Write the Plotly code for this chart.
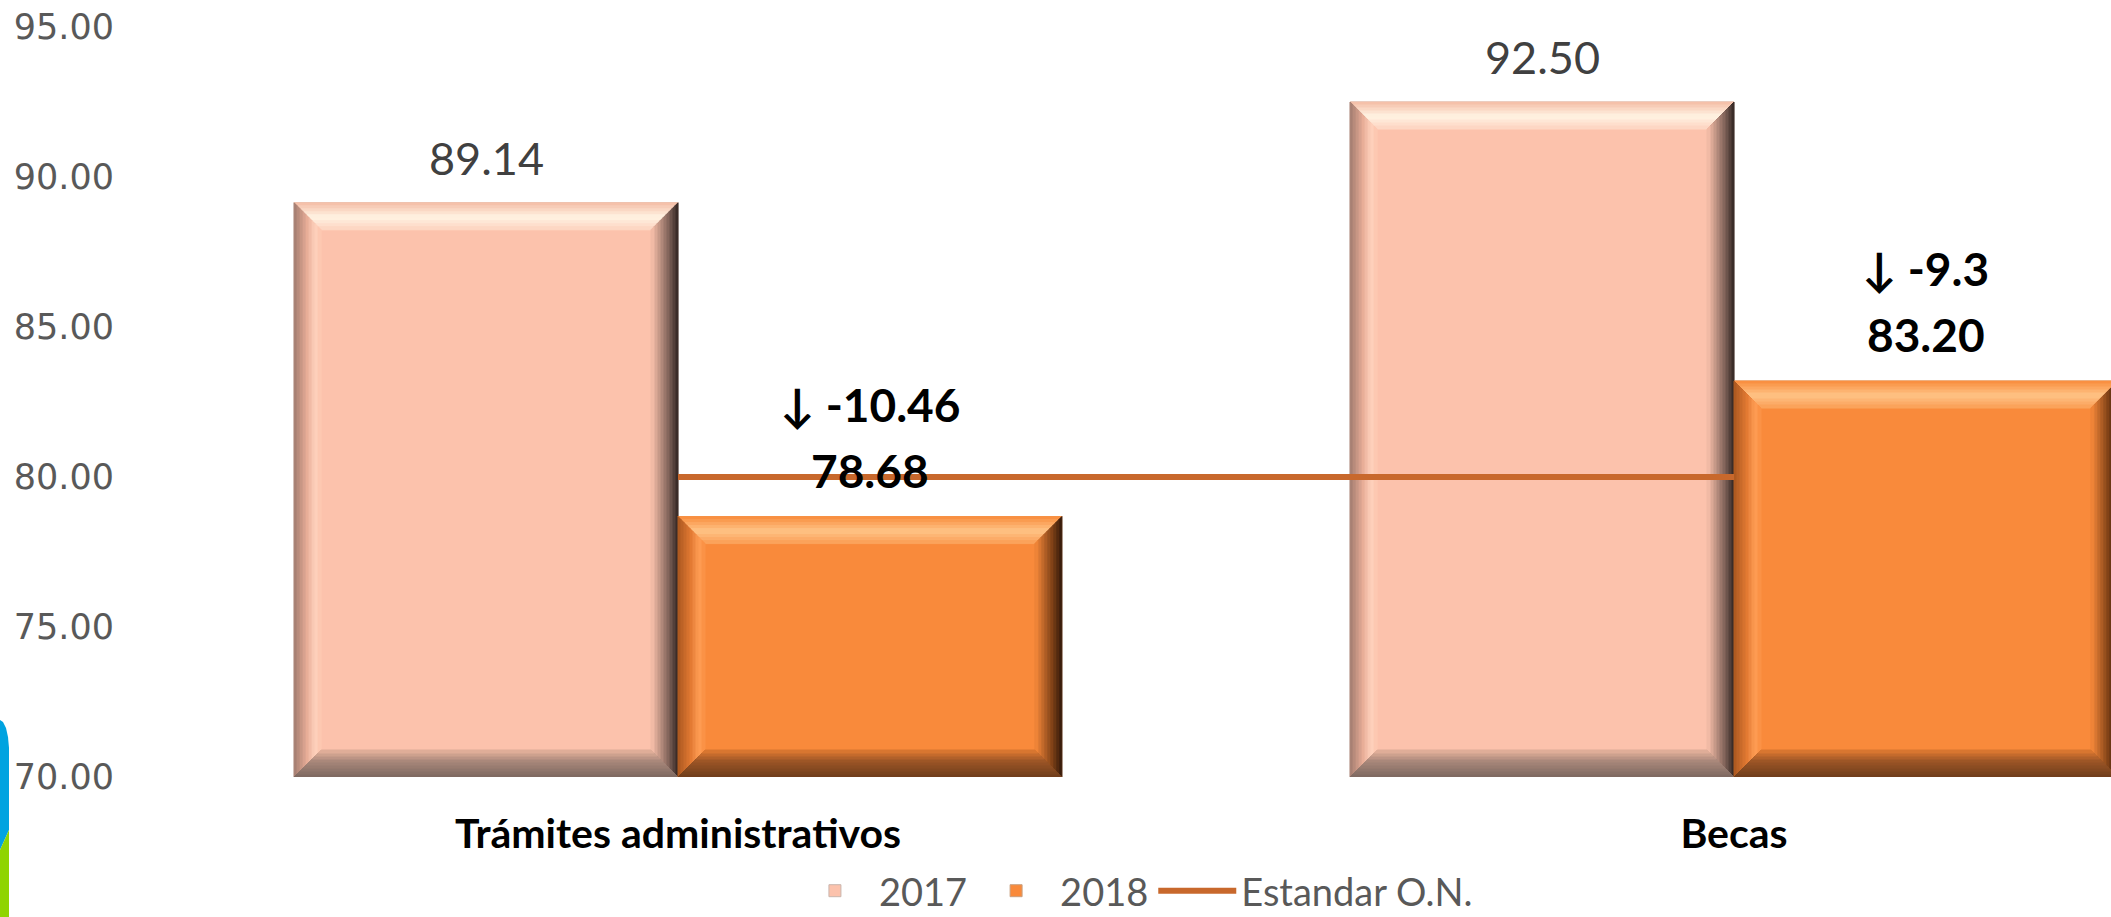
import plotly.graph_objects as go

# ---------------- data ----------------
categories = ["Trámites administrativos", "Becas"]
years = ["2017", "2018"]
values_2017 = [89.14, 92.50]
values_2018 = [78.68, 83.20]
changes = [-10.46, -9.3]
standard = [80, 80]
y_ticks = [70, 75, 80, 85, 90, 95]

# ---------------- layout constants ----------------
W, H = 2111, 917
ML, MR, MT, MB = 150, 0, 27, 140
PW, PH = W - ML - MR, H - MT - MB
Y_MIN, Y_MAX = 70, 95
BARGAP = 0.273
X0_PX = 528  # pixel position (inside plot) of first category centre
UNIT_PX = 1056
X_RANGE = [-X0_PX / UNIT_PX, (PW - X0_PX) / UNIT_PX]

C2017 = "#FCC2AC"
C2018 = "#F98A3B"
LINE_C = "#C8682C"

xs = list(range(len(categories)))
bar_w = (1 - BARGAP) / 2
offsets = [-bar_w / 2, bar_w / 2]

fig = go.Figure()
fig.add_trace(go.Bar(name=years[0], x=xs, y=values_2017,
                     marker=dict(color=C2017, line=dict(color="#C9B5AD", width=1)), hoverinfo="skip"))
fig.add_trace(go.Bar(name=years[1], x=xs, y=values_2018,
                     marker=dict(color=C2018, line=dict(color="#C9A080", width=1)), hoverinfo="skip"))


# ---------- bevel effect (gradient bands derived from the bar geometry) ----------
def hex2rgb(h):
    h = h.lstrip("#")
    return [int(h[i:i + 2], 16) for i in (0, 2, 4)]


def interp(stops, t):
    for (p0, c0), (p1, c1) in zip(stops[:-1], stops[1:]):
        if p0 <= t <= p1:
            f = 0 if p1 == p0 else (t - p0) / (p1 - p0)
            a, b = hex2rgb(c0), hex2rgb(c1)
            return "rgb(%d,%d,%d)" % tuple(round(a[i] + (b[i] - a[i]) * f) for i in range(3))
    return stops[-1][1]


bev_px = 27
bx = bev_px / UNIT_PX
by = bev_px * (Y_MAX - Y_MIN) / PH
NB = 9

bevel_styles = {
    0: {  # 2017
        "top": [(0, "#F4BBA3"), (0.55, "#FFF4E4"), (1, "#FDD3BF")],
        "left": [(0, "#A07A6E"), (0.5, "#E8AE98"), (0.8, "#FFD2BE"), (1, "#FCC4AE")],
        "right": [(0, "#2E221F"), (0.35, "#7D6158"), (1, "#FCC2AC")],
        "bottom": [(0, "#7C6760"), (0.6, "#A8877A"), (1, "#E8B39D")],
    },
    1: {  # 2018
        "top": [(0, "#F88A3A"), (0.55, "#FFC487"), (1, "#FB9E55")],
        "left": [(0, "#A8561F"), (0.5, "#E37A33"), (0.8, "#FF9E55"), (1, "#FA8E40")],
        "right": [(0, "#2E170A"), (0.35, "#7A3F16"), (1, "#F98A3B")],
        "bottom": [(0, "#6E3D1B"), (0.6, "#9B5526"), (1, "#E27B32")],
    },
}

for s, vals in enumerate([values_2017, values_2018]):
    for side in ["top", "left", "right", "bottom"]:
        for k in range(NB):
            t0, t1 = k / NB, (k + 1) / NB
            px, py = [], []
            for i, v in enumerate(vals):
                x0 = xs[i] + offsets[s] - bar_w / 2
                x1 = x0 + bar_w
                y0, y1 = Y_MIN, v
                if side == "top":
                    pts = [(x0 + bx * t0, y1 - by * t0), (x1 - bx * t0, y1 - by * t0),
                           (x1 - bx * t1, y1 - by * t1), (x0 + bx * t1, y1 - by * t1)]
                elif side == "bottom":
                    pts = [(x0 + bx * t0, y0 + by * t0), (x1 - bx * t0, y0 + by * t0),
                           (x1 - bx * t1, y0 + by * t1), (x0 + bx * t1, y0 + by * t1)]
                elif side == "left":
                    pts = [(x0 + bx * t0, y0 + by * t0), (x0 + bx * t0, y1 - by * t0),
                           (x0 + bx * t1, y1 - by * t1), (x0 + bx * t1, y0 + by * t1)]
                else:
                    pts = [(x1 - bx * t0, y0 + by * t0), (x1 - bx * t0, y1 - by * t0),
                           (x1 - bx * t1, y1 - by * t1), (x1 - bx * t1, y0 + by * t1)]
                pts.append(pts[0])
                px += [p[0] for p in pts] + [None]
                py += [p[1] for p in pts] + [None]
            col = interp(bevel_styles[s][side], (t0 + t1) / 2)
            fig.add_trace(go.Scatter(x=px, y=py, mode="lines", fill="toself", fillcolor=col,
                                     line=dict(color=col, width=1), showlegend=False, hoverinfo="skip"))

fig.add_trace(go.Scatter(name="Estandar O.N.", x=xs, y=standard, mode="lines",
                         line=dict(color=LINE_C, width=6), hoverinfo="skip"))

# ---------- value labels ----------
annotations = []
for i, v in enumerate(values_2017):
    annotations.append(dict(x=xs[i] + offsets[0], y=v, xref="x", yref="y", text=f"{v:.2f}",
                            showarrow=False, yanchor="bottom", yshift=16,
                            font=dict(family="Lato", size=45, color="#404040")))
for i, v in enumerate(values_2018):
    annotations.append(dict(x=xs[i] + offsets[1], y=v, xref="x", yref="y",
                            text=f"<b>{v:.2f}</b>",
                            showarrow=False, yanchor="bottom", yshift=17,
                            font=dict(family="Lato", size=46, color="#000000")))
    annotations.append(dict(x=xs[i] + offsets[1], y=v, xref="x", yref="y",
                            text=f"<b>↓ {changes[i]:g}</b>",
                            showarrow=False, yanchor="bottom", yshift=83,
                            font=dict(family="Lato", size=46, color="#000000")))


# ---------- decorative slide element at the left edge (page px) ----------
def pxx(p):
    return (p - ML) / PW


def pyy(p):
    return (H - MB - p) / PH


blue = [(0, 720), (3, 722), (6, 728), (8, 737), (9, 748), (9, 830), (0, 850)]
green = [(0, 850), (9, 830), (9, 917), (0, 917)]
shapes = []
for pts, col in [(blue, "#00A3E0"), (green, "#8FD400")]:
    path = "M " + " L ".join(f"{pxx(a):.5f},{pyy(b):.5f}" for a, b in pts) + " Z"
    shapes.append(dict(type="path", xref="paper", yref="paper", path=path,
                       fillcolor=col, line=dict(width=0), layer="above"))

fig.update_layout(
    width=W, height=H,
    margin=dict(l=ML, r=MR, t=MT, b=MB, pad=0, autoexpand=False),
    paper_bgcolor="white", plot_bgcolor="white",
    barmode="group", bargap=BARGAP, bargroupgap=0,
    annotations=annotations,
    shapes=shapes,
    showlegend=True,
    legend=dict(orientation="h", xanchor="center", x=0.502, yanchor="middle", y=-0.152,
                font=dict(family="Lato", size=38, color="#595959"), itemwidth=78,
                bgcolor="rgba(0,0,0,0)"),
    xaxis=dict(range=X_RANGE, tickvals=xs, ticktext=[f"<b>{c}</b>" for c in categories],
               showgrid=False, zeroline=False, showline=False, ticks="", automargin=False,
               tickfont=dict(family="Lato", size=41, color="#000000"), ticklabelstandoff=29),
    yaxis=dict(range=[Y_MIN, Y_MAX], tickvals=y_ticks, ticktext=[f"{t:.2f}" for t in y_ticks],
               showgrid=False, zeroline=False, showline=False, ticks="", automargin=False,
               ticklabeloverflow="allow",
               tickfont=dict(family="DejaVu Sans", size=35, color="#595959"), ticklabelstandoff=35),
)

fig.write_html("out.html", config={"displayModeBar": False},
               post_script="document.body.style.margin='0px';")
